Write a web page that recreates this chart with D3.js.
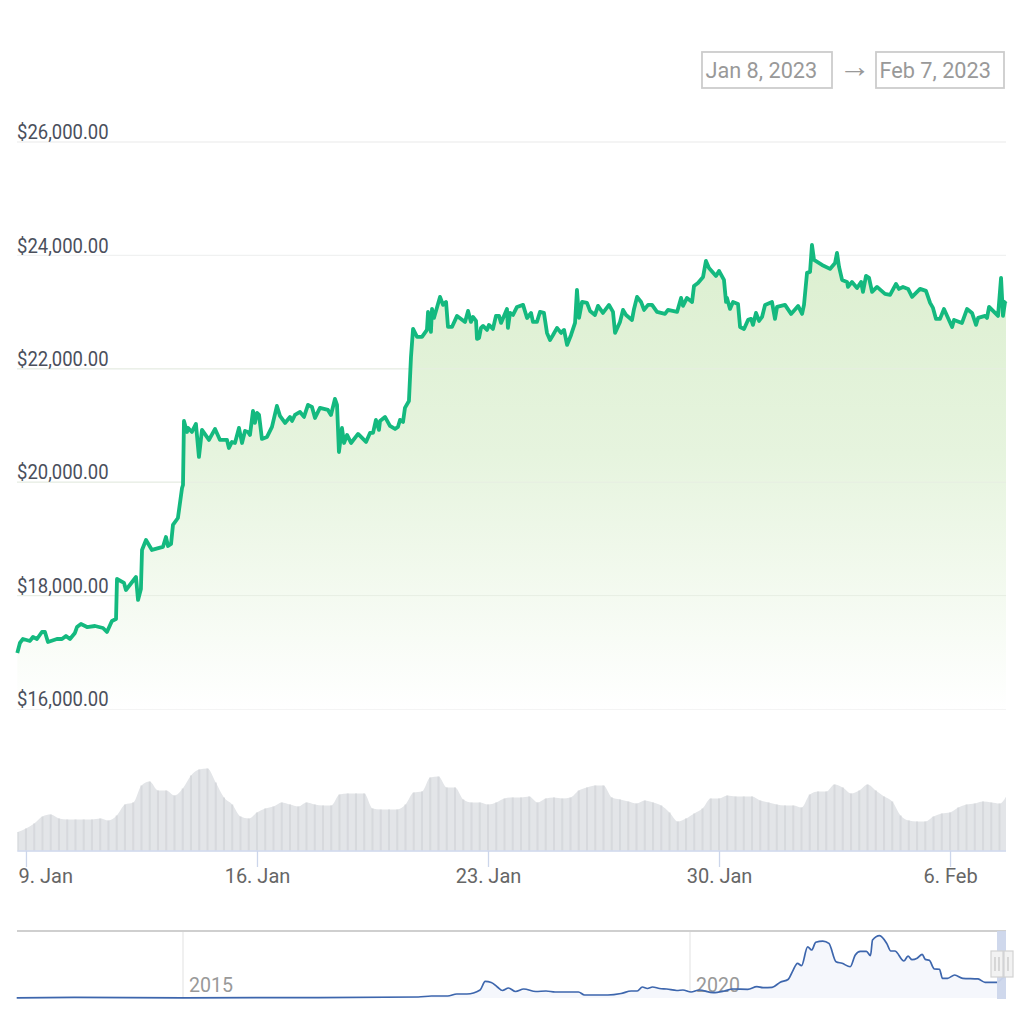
<!DOCTYPE html>
<html><head><meta charset="utf-8">
<style>html,body{margin:0;padding:0;background:#fff}svg{display:block}text{font-family:Roboto,sans-serif}</style>
<script src="https://cdnjs.cloudflare.com/ajax/libs/d3/7.8.5/d3.min.js"></script>
</head><body><svg id="c" width="1024" height="1024"></svg>
<script>
// hours after 9 Jan 2023 00:00 UTC
const priceHours=[-6.3,-4.4,-2.2,2.9,5.1,8,11.6,13.8,16,22.5,26.2,29.1,32,35.6,37.1,40,44.4,50.2,56,58.9,62.5,65.5,66.2,71.3,72.7,80,81.5,83.6,84.4,87.3,91.6,99.6,101.8,103.3,105.5,106.9,110.5,113.5,114.2,114.9,117.1,117.8,120.7,123.6,125.8,128,133.1,137.5,141.1,146.2,147.6,149.8,152,154.9,157.1,159.3,161.5,162.9,165.1,166.5,168,169.5,171.6,175.3,178.9,182.5,184.7,188.4,192,193.5,195.6,199.3,202.2,205.1,208,210.2,213.8,219.6,221.8,224.7,226.2,227.6,229.8,231.3,233.5,236.4,241.5,247.3,250.2,252.4,254.5,256.7,257.5,261.1,264.7,268.4,270.5,272,274.2,275.6,278.5,280,281.5,284.4,288,291.6,292.4,294.5,295.3,296.7,301.1,303.3,305.5,306.9,309.8,313.5,319.3,321.5,323.6,325.1,327.3,328,329.5,330.9,332.4,335.3,336.7,339.6,341.8,344,345.5,349.8,350.5,352,354.2,357.1,361.5,364.4,367.3,368.7,371.6,373.8,376.7,378.9,381.1,383.3,386.2,389.1,391.3,393.5,396.4,399.3,400.7,402.2,404.4,408,410.2,413.8,416,419.6,424,426.9,428.4,432,434.2,436.4,440.7,442.2,444.4,447.3,449.5,452.4,455.3,458.9,464.7,466.9,473.5,476.4,477.8,480.7,484.4,485.8,488.7,492.4,494.5,496.7,501.8,504,507.6,509.1,509.8,512,514.2,517.8,519.3,522.2,525.1,527.3,528.7,530.9,533.1,535.3,537.5,542.5,544.7,546.2,552,556.4,561.5,564.4,565.8,568,570.2,571.6,573.1,578.9,584.7,588.4,589.8,591.3,593.5,597.1,597.8,600.7,604.4,607.3,608.7,610.9,613.1,615.3,618.9,624.7,628.4,632.7,634.9,637.8,641.5,644.4,650.2,654.5,657.5,659.6,661.8,664.7,667.6,673.5,674.9,680.7,684.4,688,690.9,692.4,697.5,698.9,700.4,703.3,706.9,709.1,710.5,712,712.7];
const priceValues=[16988,17164,17235,17200,17270,17235,17358,17358,17182,17235,17235,17288,17235,17341,17446,17499,17446,17464,17429,17358,17552,17588,18293,18223,18099,18328,17923,18117,18805,18981,18805,18858,19034,18875,18911,19246,19369,19898,19951,21080,20886,20957,20886,21027,20445,20922,20745,20939,20745,20745,20604,20710,20692,20957,20692,20904,20886,20833,21257,21045,21221,21186,20763,20798,20975,21345,21169,21045,21151,21080,21186,21239,21151,21363,21327,21133,21310,21274,21186,21468,21363,20533,20957,20692,20833,20692,20851,20710,20869,20869,21098,20922,21080,21151,20992,20939,20975,21098,21063,21310,21433,22209,22703,22562,22562,22686,23003,22650,23056,22897,23268,23127,23179,22738,22738,22933,22827,23021,22827,22915,22844,22527,22544,22721,22756,22686,22774,22703,22933,22933,22809,23056,22721,22985,22950,23091,23127,22897,22985,22827,22827,23003,22985,22633,22509,22597,22721,22633,22686,22421,22597,22809,23391,22897,23179,23162,23021,22950,23109,22985,23127,23003,22633,22827,23038,22950,22862,23056,23268,23179,23038,23127,23127,23003,22968,23038,23003,23250,23109,23250,23179,23462,23515,23620,23903,23779,23638,23726,23568,23179,23250,23056,23179,23144,22738,22703,22862,22880,22774,22985,22844,22915,23127,23179,22880,23091,23127,22968,23109,22968,23127,23691,23709,24185,23920,23832,23762,23867,24044,23797,23568,23532,23444,23532,23426,23532,23356,23638,23603,23356,23444,23321,23303,23497,23409,23444,23409,23268,23409,23374,23162,23074,22880,22880,23056,22738,22862,22809,23056,22985,22774,22897,22933,22897,23091,23021,22933,23603,22933,23179,23197];
// one bar every 6 hours, starting 6 hours before 9 Jan
const volumeStartHour=-6, volumeStepHours=6;
const volumeValues=[18.5,22,27,34,36,32,31,31,31,31,32,30,35,46,48,65,69,60,60,55,62,75,81,82,68,53,46,34,32,38,42,44,48,46,44,48,46,45,45,56,57,57,57,42,41,41,41,46,58,59,73,74,63,63,51,48,48,46,48,52,53,53,54,48,52,53,52,53,60,63,65,65,53,51,49,47,50,48,45,38,29,32,37,42,52,52,55,54,54,54,50,48,46,45,45,43,56,59,59,66,63,57,60,66,60,54,49,35,30,29,29,34,37,38,43,46,47,49,48,47,57];
const priceTicks=[16000,18000,20000,22000,24000,26000];
const dateTicks=["2023-01-09","2023-01-16","2023-01-23","2023-01-30","2023-02-06"];
const navYears=[2013.36,2013.93,2015,2016.15,2017.32,2017.45,2017.61,2017.70,2017.80,2017.93,2017.98,2018.04,2018.10,2018.15,2018.21,2018.28,2018.36,2018.48,2018.58,2018.67,2018.90,2018.96,2019.19,2019.32,2019.42,2019.48,2019.53,2019.58,2019.63,2019.70,2019.77,2019.87,2019.93,2020.01,2020.09,2020.23,2020.34,2020.42,2020.57,2020.66,2020.72,2020.81,2020.89,2020.97,2021.01,2021.06,2021.10,2021.16,2021.20,2021.24,2021.31,2021.37,2021.44,2021.50,2021.58,2021.63,2021.68,2021.74,2021.78,2021.80,2021.87,2021.94,2021.98,2022.02,2022.11,2022.15,2022.19,2022.24,2022.29,2022.32,2022.36,2022.41,2022.46,2022.49,2022.54,2022.61,2022.69,2022.84,2022.91,2023.03,2023.08,2023.10];
const navPrices=[100,600,250,450,1100,2200,2200,4450,4450,8900,18400,17250,12250,8350,11130,7250,10000,7250,7800,6700,6700,3340,3340,5000,7800,7800,12250,10600,12250,10600,10000,8350,8900,6700,8900,5900,7800,10000,9650,12600,11450,11900,17500,20900,29300,38600,36000,57000,53400,62000,63400,60800,40400,38600,34800,47900,52000,52000,47100,64600,69500,60800,52300,52300,41200,46700,42600,44200,48600,43000,41900,32300,32000,21900,21900,25600,21900,21200,17500,17500,21900,23700];
const navTickYears=[2015,2020];
const rangeLabels=["Jan 8, 2023","Feb 7, 2023"];

const H=3600e3, t0=Date.UTC(2023,0,9);
const toDate=h=>new Date(t0+h*H);
const svg=d3.select("#c");
const defs=svg.append("defs");

const x=d3.scaleUtc().domain([toDate(-6.3),toDate(712.7)]).range([17.3,1006]);
const y=d3.scaleLinear().domain([16000,26000]).range([709,142]);
const yVol=d3.scaleLinear().domain([0,100]).range([850.5,750.5]);

const grad=defs.append("linearGradient").attr("id","g").attr("gradientUnits","userSpaceOnUse")
 .attr("x1",0).attr("x2",0).attr("y1",y(24200)).attr("y2",y(16000));
grad.append("stop").attr("offset",0).attr("stop-color","#dcefd0");
grad.append("stop").attr("offset",.45).attr("stop-color","#e6f4de");
grad.append("stop").attr("offset",1).attr("stop-color","#ffffff");

// gridlines
svg.append("g").selectAll("line").data(priceTicks).join("line")
 .attr("x1",17).attr("x2",1006).attr("y1",d=>y(d)).attr("y2",d=>y(d))
 .attr("stroke","#f0f1f1").attr("stroke-width",1.3);

const pts=priceHours.map((h,i)=>[toDate(h),priceValues[i]]);
svg.append("path").datum(pts).attr("fill","url(#g)")
 .attr("d",d3.area().x(d=>x(d[0])).y0(y(16000)).y1(d=>y(d[1])));
// grid shows faintly through the area
svg.append("g").selectAll("line").data(priceTicks.slice(1,4)).join("line")
 .attr("x1",17).attr("x2",1006).attr("y1",d=>y(d)).attr("y2",d=>y(d))
 .attr("stroke","#e7eee3").attr("stroke-width",1);
svg.append("path").datum(pts).attr("fill","none").attr("stroke","#14b97f").attr("stroke-width",3.8)
 .attr("stroke-linejoin","round").attr("stroke-linecap","butt")
 .attr("d",d3.line().x(d=>x(d[0])).y(d=>y(d[1])));

// price labels
const yAxis=d3.axisRight(y).tickValues(priceTicks).tickSize(0).tickPadding(0).tickFormat(d3.format("$,.2f"));
const gy=svg.append("g").attr("transform","translate(17,0)").call(yAxis);
gy.select(".domain").remove();
gy.selectAll("text").attr("x",0).attr("dy",-3.3).attr("font-size",20).attr("fill","#4a4f5c")
 .attr("transform","scale(0.925,1)").style("font-family","Roboto");

// volume: soft envelope with thin seams between the bars
const volPts=volumeValues.map((v,i)=>[toDate(volumeStartHour+i*volumeStepHours),v]);
defs.append("clipPath").attr("id","vc").append("rect").attr("x",17.3).attr("y",740).attr("width",988.7).attr("height",111);
const vg=svg.append("g").attr("clip-path","url(#vc)");
vg.append("path").datum(volPts).attr("fill","#e3e5e8")
 .attr("d",d3.area().curve(d3.curveMonotoneX).x(d=>x(d[0])).y0(yVol(0)).y1(d=>yVol(d[1])));
vg.selectAll("rect").data(volPts).join("rect")
 .attr("x",d=>x(d[0])-1).attr("width",2)
 .attr("y",d=>yVol(d[1])).attr("height",d=>yVol(0)-yVol(d[1]))
 .attr("fill","#d3d6d9").attr("fill-opacity",.8);

// x axis
const xAxis=d3.axisBottom(x).tickValues(dateTicks.map(d=>new Date(d+"T00:00:00Z"))).tickSize(16).tickPadding(2).tickFormat(d3.utcFormat("%-d. %b"));
const gx=svg.append("g").attr("transform","translate(0,851)").call(xAxis);
gx.select(".domain").attr("stroke","#ccd6eb").attr("stroke-width",1.5).attr("d","M17.3,0H1006");
gx.selectAll("line").attr("stroke","#ccd6eb").attr("stroke-width",1.3);
gx.selectAll("text").attr("font-size",20).attr("fill","#666").style("font-family","Roboto");
gx.selectAll("text").filter((d,i)=>i===0).attr("text-anchor","start").attr("x",18-x(new Date(dateTicks[0]+"T00:00:00Z")));

// navigator
const xn=d3.scaleLinear().domain([2015,2020]).range([183,690]);
const yn=d3.scaleLinear().domain([0,69000]).range([998,936]);
const nav=navYears.map((v,i)=>[v,navPrices[i]]);
svg.append("g").selectAll("line").data(navTickYears).join("line")
 .attr("x1",d=>xn(d)).attr("x2",d=>xn(d)).attr("y1",931).attr("y2",998).attr("stroke","#e6e6e6").attr("stroke-width",1.2);
svg.append("path").datum(nav).attr("fill","#f5f7fc")
 .attr("d",d3.area().x(d=>xn(d[0])).y0(yn(0)).y1(d=>yn(d[1])));
svg.append("g").selectAll("text").data(navTickYears).join("text")
 .attr("x",d=>xn(d)+6).attr("y",991.5).attr("font-size",19.6).attr("fill","#999").text(d=>d);
svg.append("path").datum(nav).attr("fill","none").attr("stroke","#3d66ad").attr("stroke-width",1.7)
 .attr("stroke-linejoin","round").attr("d",d3.line().curve(d3.curveMonotoneX).x(d=>xn(d[0])).y(d=>yn(d[1])));
svg.append("line").attr("x1",17).attr("x2",1006).attr("y1",931).attr("y2",931).attr("stroke","#cfcfcf").attr("stroke-width",2);
svg.append("rect").attr("x",997).attr("y",931).attr("width",9).attr("height",68).attr("fill","#ccd6eb").attr("fill-opacity",.95);
[[991,1003],[1004,1013]].forEach(([a,b])=>{
 svg.append("rect").attr("x",a).attr("y",951).attr("width",b-a).attr("height",26).attr("fill","#f2f2f2").attr("stroke","#d2d2d2").attr("stroke-width",1.2);
});
[995,999,1008].forEach(v=>svg.append("line").attr("x1",v).attr("x2",v).attr("y1",957).attr("y2",971).attr("stroke","#c4c4c4").attr("stroke-width",1.2));

// range inputs
const boxes=[[702,130],[876,128]];
boxes.forEach(([bx,bw],i)=>{
 svg.append("rect").attr("x",bx).attr("y",52).attr("width",bw).attr("height",36).attr("fill","#fff").attr("stroke","#cccccc").attr("stroke-width",1.8);
 svg.append("text").attr("x",bx+3.5).attr("y",78).attr("font-size",21.7).attr("fill","#999").text(rangeLabels[i]);
});
svg.append("text").attr("x",854.5).attr("y",77).attr("text-anchor","middle").attr("font-size",32).attr("fill","#999").text("→");
</script></body></html>
